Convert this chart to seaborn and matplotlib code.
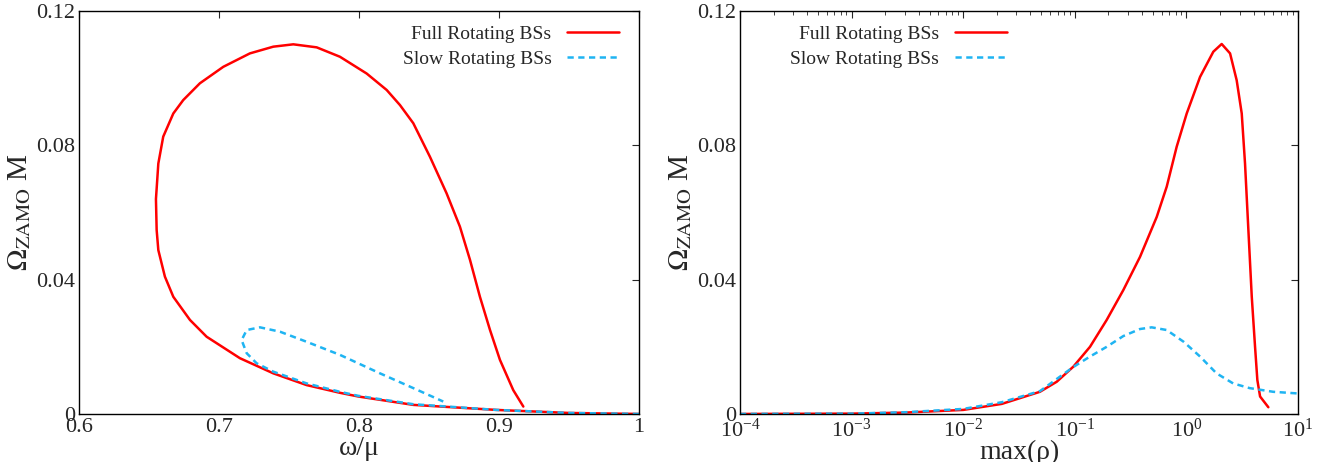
import numpy as np
import pandas as pd
import seaborn as sns
import matplotlib.pyplot as plt
from matplotlib.ticker import LogLocator, NullFormatter

# left panel: Omega_ZAMO M vs omega/mu (parametric loops, in drawing order)
full_w = [1.0, 0.95, 0.8983, 0.8388, 0.7995, 0.7864, 0.7626, 0.7388, 0.715, 0.6912,
          0.6793, 0.6674, 0.6614, 0.6567, 0.6555, 0.655, 0.6567, 0.6602, 0.6674,
          0.6745, 0.6864, 0.7031, 0.7221, 0.7388, 0.7531, 0.7698, 0.7864, 0.8055,
          0.8198, 0.8293, 0.8388, 0.8507, 0.8626, 0.8721, 0.8793, 0.8864, 0.8936,
          0.9007, 0.9102, 0.9174]
full_om = [0.0, 0.0003, 0.0012, 0.0027, 0.0052, 0.0063, 0.0086, 0.0121, 0.0166, 0.0230,
           0.0280, 0.0349, 0.0409, 0.0488, 0.0548, 0.0640, 0.0746, 0.0826, 0.0895,
           0.0935, 0.0985, 0.1034, 0.1074, 0.1094, 0.1101, 0.1092, 0.1064, 0.1014,
           0.0965, 0.0920, 0.0866, 0.0766, 0.0657, 0.0558, 0.0459, 0.0349, 0.0250,
           0.0161, 0.0071, 0.0022]
slow_w = [1.0, 0.95, 0.8983, 0.8388, 0.7995, 0.7864, 0.7626, 0.7388, 0.7269, 0.7198,
          0.7162, 0.7198, 0.7293, 0.7436, 0.7626, 0.7864, 0.815, 0.8388, 0.8602]
slow_om = [0.0, 0.0003, 0.0012, 0.0029, 0.0054, 0.0066, 0.0091, 0.0126, 0.0151, 0.0181,
           0.0220, 0.0250, 0.0258, 0.0245, 0.0215, 0.0176, 0.0121, 0.0077, 0.0037]

# right panel: Omega_ZAMO M vs max(rho)
full_rho = [1e-4, 1e-3, 3e-3, 1e-2, 0.0222, 0.0487, 0.0689, 0.0971, 0.1368, 0.193,
            0.272, 0.384, 0.542, 0.666, 0.818, 1.006, 1.325, 1.742, 2.07, 2.46, 2.82,
            3.13, 3.35, 3.59, 3.85, 4.12, 4.32, 4.57, 5.42]
full_om2 = [0.0, 0.0001, 0.0004, 0.0012, 0.0030, 0.0066, 0.0096, 0.0141, 0.0200, 0.0280,
            0.0369, 0.0468, 0.0587, 0.0677, 0.0796, 0.0895, 0.1004, 0.1079, 0.1102,
            0.1074, 0.0994, 0.0895, 0.0746, 0.0548, 0.0349, 0.0200, 0.0101, 0.0052,
            0.0020]
slow_rho = [1e-4, 1e-3, 3e-3, 1e-2, 0.0222, 0.0487, 0.0971, 0.1368, 0.193, 0.272, 0.384,
            0.488, 0.666, 0.944, 1.325, 1.86, 2.62, 3.68, 5.99, 10.0]
slow_om2 = [0.0, 0.0001, 0.0005, 0.0015, 0.0035, 0.0068, 0.0140, 0.0171, 0.0200, 0.0232,
            0.0253, 0.0258, 0.0250, 0.0215, 0.0171, 0.0121, 0.0091, 0.0077, 0.0066,
            0.0061]

labels = ["Full Rotating BSs", "Slow Rotating BSs"]
red = "#ff0000"
blue = "#1fb4f2"

sns.set_style("white")
plt.rcParams["font.family"] = ["Liberation Serif", "DejaVu Serif"]
plt.rcParams["mathtext.fontset"] = "stix"

fig = plt.figure(figsize=(13.29, 4.62), dpi=100)
ax1 = fig.add_axes([0.0594, 0.104, 0.4214, 0.872])
ax2 = fig.add_axes([0.5568, 0.104, 0.4199, 0.872])

def draw(ax, xs_full, ys_full, xs_slow, ys_slow):
    d_full = pd.DataFrame({"x": xs_full, "y": ys_full})
    d_slow = pd.DataFrame({"x": xs_slow, "y": ys_slow})
    sns.lineplot(data=d_full, x="x", y="y", sort=False, estimator=None, ax=ax,
                 color=red, lw=1.8, label=labels[0])
    sns.lineplot(data=d_slow, x="x", y="y", sort=False, estimator=None, ax=ax,
                 color=blue, lw=1.8, label=labels[1], linestyle=(0, (2.5, 1.8)))

draw(ax1, full_w, full_om, slow_w, slow_om)
draw(ax2, full_rho, full_om2, slow_rho, slow_om2)

ylab = r"$\Omega_{\mathrm{ZAMO}}$ M"
for ax in (ax1, ax2):
    ax.set_ylim(0, 0.12)
    ax.set_yticks([0, 0.04, 0.08, 0.12])
    ax.set_yticklabels(["0", "0.04", "0.08", "0.12"])
    ax.set_ylabel(ylab, fontsize=21, labelpad=2)
    ax.tick_params(direction="in", top=True, right=True, labelsize=16, length=5,
                   width=0.8, pad=3)
    ax.tick_params(which="minor", direction="in", top=True, right=True, length=3)
    for s in ax.spines.values():
        s.set_linewidth(1.0)
        s.set_color("black")

ax1.set_xlim(0.6, 1.0)
ax1.set_xticks([0.6, 0.7, 0.8, 0.9, 1.0])
ax1.set_xticklabels(["0.6", "0.7", "0.8", "0.9", "1"])
ax1.set_xlabel("ω/μ", fontsize=20, labelpad=-1)
ax1.legend(loc="upper right", bbox_to_anchor=(0.979, 0.985), borderaxespad=0,
           markerfirst=False, frameon=False, fontsize=14, handlelength=2.7,
           labelspacing=0.4)

ax2.set_xscale("log")
ax2.set_xlim(1e-4, 10)
ax2.xaxis.set_major_locator(LogLocator(base=10, numticks=10))
ax2.xaxis.set_minor_locator(LogLocator(base=10, subs=np.arange(2, 10), numticks=20))
ax2.xaxis.set_minor_formatter(NullFormatter())
ax2.set_xlabel("max(ρ)", fontsize=20, labelpad=-1)
ax2.legend(loc="upper right", bbox_to_anchor=(0.493, 0.985), borderaxespad=0,
           markerfirst=False, frameon=False, fontsize=14, handlelength=2.7,
           labelspacing=0.4)

fig.savefig("out.png", dpi=100)
